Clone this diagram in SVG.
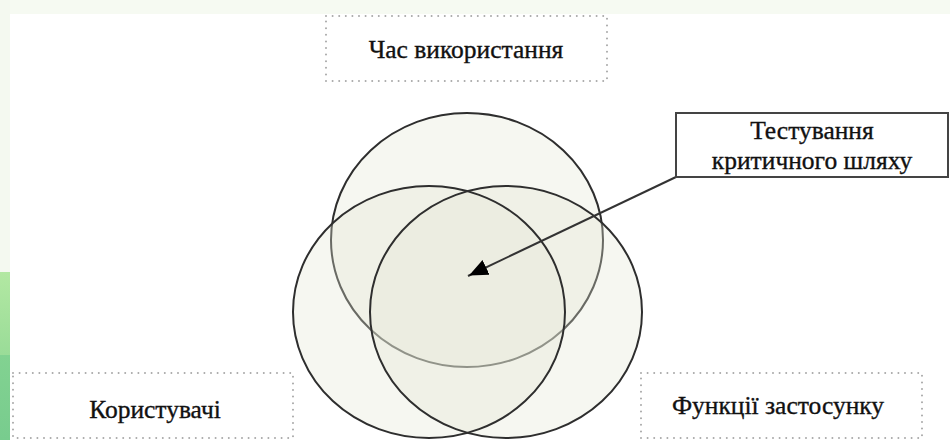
<svg xmlns="http://www.w3.org/2000/svg" width="950" height="440" viewBox="0 0 950 440">
  <style>
    .lbl { font-family: 'Liberation Serif', 'Times New Roman', serif; font-size: 25.5px; fill: #111111; stroke: #111111; stroke-width: 0.35; text-anchor: middle; }
    .dotbox { fill: #ffffff; stroke: #a8a8a8; stroke-width: 2; stroke-dasharray: 0 6.6; stroke-linecap: round; }
    .solidbox { fill: #ffffff; stroke: #444444; stroke-width: 2; }
    .cfill { fill: #e3e8d6; fill-opacity: 0.33; stroke: none; }
    .cline { fill: none; stroke: #2e2e2e; stroke-width: 2; }
    .conn { fill: none; stroke: #333333; stroke-width: 2; }
  </style>
  <defs>
    <linearGradient id="g1" x1="0" y1="0" x2="0" y2="1">
      <stop offset="0" stop-color="#b2e8a2"/>
      <stop offset="1" stop-color="#9adc98"/>
    </linearGradient>
    <linearGradient id="g2" x1="0" y1="0" x2="0" y2="1">
      <stop offset="0" stop-color="#82d291"/>
      <stop offset="1" stop-color="#78cc8e"/>
    </linearGradient>
    <marker id="ah" markerUnits="userSpaceOnUse" markerWidth="20" markerHeight="20" viewBox="0 -8 17 16" refX="17" refY="0" orient="auto">
      <path d="M0,-7 L16,0 L0,7 z" fill="#000000"/>
    </marker>
  </defs>

  <!-- background -->
  <rect x="0" y="0" width="950" height="440" fill="#ffffff"/>
  <rect x="0" y="0" width="950" height="14" fill="#f6faf2"/>
  <rect x="0" y="0" width="10" height="272" fill="#f4f9f0"/>
  <rect x="0" y="272" width="10" height="83" fill="url(#g1)"/>
  <rect x="0" y="355" width="10" height="85" fill="url(#g2)"/>

  <!-- Venn circles -->
  <g id="venn">
    <g id="circle-top">
      <ellipse cx="467" cy="240" rx="136" ry="127" class="cfill"/>
      <ellipse cx="467" cy="240" rx="136" ry="127" class="cline"/>
    </g>
    <g id="circle-left">
      <ellipse cx="429" cy="312" rx="136" ry="126" class="cfill"/>
    </g>
    <g id="circle-right">
      <ellipse cx="506" cy="312" rx="136" ry="126" class="cfill"/>
    </g>
    <ellipse cx="429" cy="312" rx="136" ry="126" class="cline"/>
    <ellipse cx="506" cy="312" rx="136" ry="126" class="cline"/>
  </g>

  <!-- connectors -->
  <g id="connectors">
    <line x1="676" y1="177" x2="468" y2="276" class="conn" marker-end="url(#ah)"/>
  </g>

  <g id="node-time">
    <rect x="326" y="16" width="281" height="65" class="dotbox"/>
    <text x="466" y="58" class="lbl">Час використання</text>
  </g>

  <g id="node-users">
    <rect x="13" y="373" width="280" height="65" class="dotbox"/>
    <text x="155" y="418" class="lbl">Користувачі</text>
  </g>

  <g id="node-functions">
    <rect x="641" y="373" width="281" height="65" class="dotbox"/>
    <text x="778" y="414" class="lbl">Функції застосунку</text>
  </g>

  <g id="node-critical">
    <rect x="676" y="113" width="272" height="64" class="solidbox"/>
    <text x="812" y="139" class="lbl">Тестування</text>
    <text x="812" y="169" class="lbl">критичного шляху</text>
  </g>
</svg>
